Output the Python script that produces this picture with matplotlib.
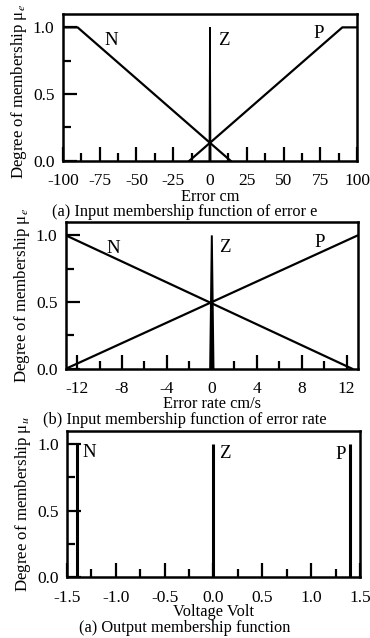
import numpy as np
import matplotlib
matplotlib.use("Agg")
import matplotlib.pyplot as plt
from matplotlib.ticker import MultipleLocator

plt.rcParams['font.family'] = ['Liberation Serif', 'DejaVu Serif']
plt.rcParams['mathtext.fontset'] = 'stix'

# panel (a): error e
e_N_x = [-100, -90, 14]
e_N_y = [1, 1, 0]
e_Z_x = [-0.4, 0, 0.4]
e_Z_y = [0, 1, 0]
e_P_x = [-14, 90, 100]
e_P_y = [0, 1, 1]
e_ticks = [-100, -75, -50, -25, 0, 25, 50, 75, 100]

# panel (b): error rate
r_N_x = [-13, 12.5]
r_N_y = [1, 0]
r_Z_x = [-0.15, 0, 0.15]
r_Z_y = [0, 1, 0]
r_P_x = [-13, 13]
r_P_y = [0, 1]
r_ticks = [-12, -8, -4, 0, 4, 8, 12]

# panel (c): output voltage (singletons)
u_pos = [-1.4, 0.0, 1.4]
u_val = [1, 1, 1]
u_ticks = [-1.5, -1.0, -0.5, 0.0, 0.5, 1.0, 1.5]

y_ticks = [0.0, 0.5, 1.0]

fig = plt.figure(figsize=(3.7, 6.38), dpi=100)
ax1 = fig.add_axes([0.170, 0.748, 0.795, 0.230])
ax2 = fig.add_axes([0.178, 0.422, 0.789, 0.230])
ax3 = fig.add_axes([0.181, 0.0956, 0.792, 0.229])

lw = 1.6
lab_fs = 13.5
cap_fs = 11.8
ylab_fs = 12.2

def style(ax, xlim, minor, xticks, xfmt):
    ax.set_xlim(*xlim)
    ax.set_ylim(0, 1.1)
    ax.set_xticks(xticks)
    ax.set_xticklabels([xfmt(v) for v in xticks])
    ax.xaxis.set_minor_locator(MultipleLocator(minor))
    ax.set_yticks(y_ticks)
    ax.set_yticklabels(["%.1f" % v for v in y_ticks])
    ax.yaxis.set_minor_locator(MultipleLocator(0.25))
    ax.tick_params(which='major', direction='in', length=10, width=1.6,
                   labelsize=12.5, pad=6)
    ax.tick_params(which='minor', direction='in', length=5.5, width=1.6)
    ax.tick_params(axis='x', which='major', pad=9)
    for s in ax.spines.values():
        s.set_linewidth(1.8)

style(ax1, (-100, 100), 12.5, e_ticks, lambda v: "%d" % v)
ax1.plot(e_N_x, e_N_y, color='black', lw=lw)
ax1.plot(e_P_x, e_P_y, color='black', lw=lw)
ax1.fill(e_Z_x, e_Z_y, color='black', lw=1.2)
ax1.text(-67, 0.90, "N", ha='center', va='center', fontsize=lab_fs)
ax1.text(9.5, 0.90, "Z", ha='center', va='center', fontsize=lab_fs)
ax1.text(74, 0.955, "P", ha='center', va='center', fontsize=lab_fs)
ax1.set_xlabel("Error cm", fontsize=cap_fs, labelpad=-0.5)
ax1.set_ylabel("Degree of membership μ$_e$", fontsize=ylab_fs, labelpad=3)
ax1.yaxis.label.set_y(0.47)
fig.text(0.5, 1 - 212 / 638, "(a) Input membership function of error e",
         ha='center', va='center', fontsize=cap_fs)

style(ax2, (-13, 13), 2, r_ticks, lambda v: "%d" % v)
ax2.plot(r_N_x, r_N_y, color='black', lw=lw)
ax2.plot(r_P_x, r_P_y, color='black', lw=lw)
ax2.fill(r_Z_x, r_Z_y, color='black', lw=1.4)
ax2.text(-8.8, 0.90, "N", ha='center', va='center', fontsize=lab_fs)
ax2.text(1.2, 0.91, "Z", ha='center', va='center', fontsize=lab_fs)
ax2.text(9.6, 0.95, "P", ha='center', va='center', fontsize=lab_fs)
ax2.set_xlabel("Error rate cm/s", fontsize=cap_fs, labelpad=-1)
ax2.set_ylabel("Degree of membership μ$_e$", fontsize=ylab_fs, labelpad=3)
fig.text(0.5, 1 - 420 / 638, "(b) Input membership function of error rate",
         ha='center', va='center', fontsize=cap_fs)

style(ax3, (-1.5, 1.5), 0.25, u_ticks, lambda v: "%.1f" % v)
ax3.vlines(u_pos, 0, u_val, color='black', lw=2.2)
ax3.text(-1.27, 0.94, "N", ha='center', va='center', fontsize=lab_fs)
ax3.text(0.12, 0.93, "Z", ha='center', va='center', fontsize=lab_fs)
ax3.text(1.30, 0.92, "P", ha='center', va='center', fontsize=lab_fs)
ax3.set_xlabel("Voltage Volt", fontsize=cap_fs, labelpad=-1)
ax3.set_ylabel("Degree of membership μ$_u$", fontsize=ylab_fs, labelpad=3)
fig.text(0.5, 1 - 628 / 638, "(a) Output membership function",
         ha='center', va='center', fontsize=cap_fs)

fig.savefig("out.png", dpi=100)
